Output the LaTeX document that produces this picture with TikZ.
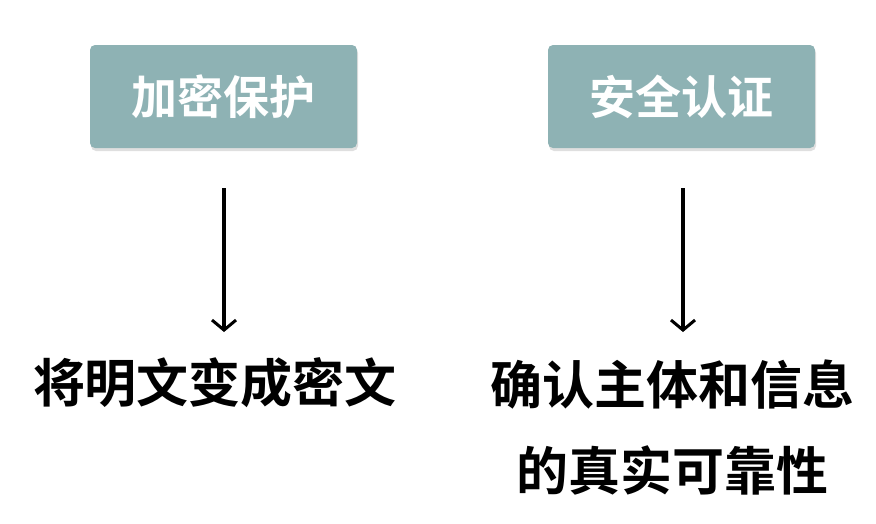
\documentclass[tikz,border=0pt]{standalone}
\usepackage{fontspec}
\newfontfamily\cjk{Noto Sans CJK SC}[BoldFont={* Bold}]
\usetikzlibrary{shadows,arrows.meta}
\definecolor{boxc}{HTML}{8EB2B4}
\begin{document}
\begin{tikzpicture}[x=1pt,y=-1pt,
  box/.style={fill=boxc,rounded corners=5pt,minimum width=267pt,minimum height=103pt,
    drop shadow={shadow xshift=1pt,shadow yshift=-3pt,opacity=0.25},
    text=white,font=\cjk\bfseries\fontsize{46}{50}\selectfont},
  big/.style={text=black,font=\cjk\bfseries\fontsize{52}{56}\selectfont,align=center},
  arr/.style={-{Straight Barb[length=10pt,width=24pt,line width=3pt]},line width=3.5pt}]
\useasboundingbox (0,0) rectangle (876,523);
\node[box] (b1) at (223.5,96.5) {加密保护};
\node[box] (b2) at (681.5,96.5) {安全认证};
\coordinate (s1) at (224,188); \coordinate (e1) at (224,332);
\coordinate (s2) at (683,188); \coordinate (e2) at (683,332);
\draw[arr] (s1) -- (e1);
\draw[arr] (s2) -- (e2);
\node[big] (t1) at (215,383) {将明文变成密文};
\node[big] (t2) at (672,385) {确认主体和信息};
\node[big] (t3) at (672,470) {的真实可靠性};
\end{tikzpicture}
\end{document}
